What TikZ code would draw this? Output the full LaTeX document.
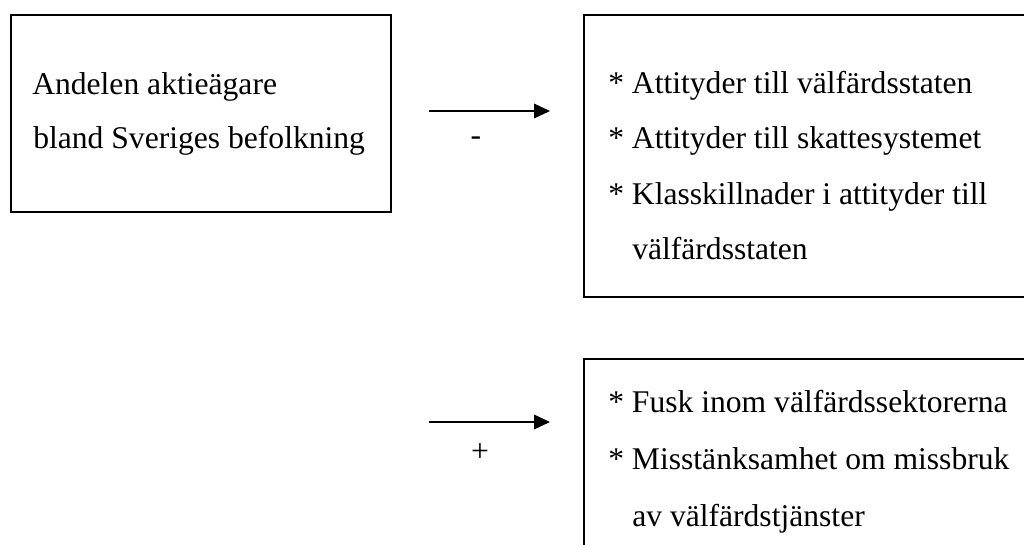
\documentclass[tikz,border=0pt]{standalone}
\usepackage{fontspec}
\setmainfont{Liberation Serif}
\usetikzlibrary{arrows.meta}
\begin{document}
\begin{tikzpicture}[x=0.75pt,y=-0.75pt,
  box/.style={draw,line width=1.5pt,inner sep=0pt,anchor=north west},
  txt/.style={anchor=base west,inner sep=0pt,font=\fontsize{23.7}{28}\selectfont},
  sign/.style={inner sep=0pt,font=\fontsize{23.7}{28}\selectfont},
  conn/.style={-{Triangle[length=12pt,width=11pt]},line width=1pt}]
\useasboundingbox (0,0) rectangle (1024,544);
\clip (0,0) rectangle (1024,544);
% boxes
\node[box,minimum width=285pt,minimum height=147.75pt] (src) at (10,14) {};
\node[box,minimum width=345pt,minimum height=211.5pt] (att) at (583,14) {};
\node[box,minimum width=345pt,minimum height=187.5pt] (fusk) at (583,358) {};
% texts
\node[txt] (s1) at (32,94) {Andelen aktieägare};
\node[txt] (s2) at (33,148) {bland Sveriges befolkning};
\node[txt] (a1) at (608,93) {* Attityder till välfärdsstaten};
\node[txt] (a2) at (608,148) {* Attityder till skattesystemet};
\node[txt] (a3) at (608,204) {* Klasskillnader i attityder till};
\node[txt] (a4) at (632,259) {välfärdsstaten};
\node[txt] (f1) at (608,412) {* Fusk inom välfärdssektorerna};
\node[txt] (f2) at (608,469) {* Misstänksamhet om missbruk};
\node[txt] (f3) at (632,526) {av välfärdstjänster};
% arrows
\coordinate (p1s) at (429,111);
\coordinate (p1e) at (550,111);
\coordinate (p2s) at (429,422);
\coordinate (p2e) at (550,422);
\draw[conn] (p1s) -- (p1e);
\draw[conn] (p2s) -- (p2e);
\node[sign] (minus) at (476,141) {-};
\node[sign] (plus) at (480,453) {+};
\end{tikzpicture}
\end{document}
